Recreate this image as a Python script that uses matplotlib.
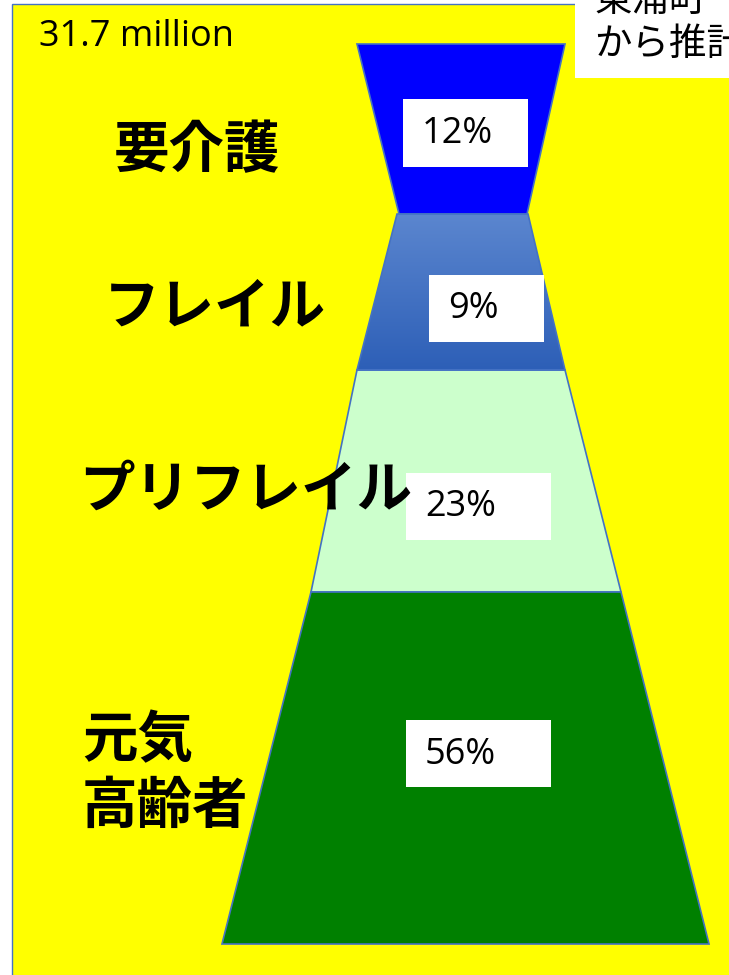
import matplotlib
matplotlib.use("Agg")
import matplotlib.pyplot as plt
import numpy as np
from matplotlib.patches import Polygon, Rectangle
from matplotlib.colors import LinearSegmentedColormap

plt.rcParams['font.family'] = ['Noto Sans CJK JP', 'DejaVu Sans']

# Pyramid layers, top to bottom
layers = ["要介護", "フレイル", "プリフレイル", "元気\n高齢者"]
shares = [12, 9, 23, 56]
total_label = "31.7 million"
source_lines = ["東浦町", "から推計"]

W, H = 729, 975
fig = plt.figure(figsize=(W / 100, H / 100), dpi=100)
ax = fig.add_axes([0, 0, 1, 1])
ax.set_xlim(0, W)
ax.set_ylim(H, 0)
ax.axis("off")

edge = "#4472C4"
latin = ["Open Sans", "DejaVu Sans"]

# Yellow panel
ax.add_patch(Rectangle((12, 4), W, H, facecolor="#FFFF00", edgecolor=edge, lw=1))

# Layer geometry: (y_top, y_bottom, left_top, right_top, left_bottom, right_bottom)
geom = [
    (44, 214, 357, 565, 399, 527),
    (214, 370, 397, 528, 357, 565),
    (370, 592, 357, 565, 311, 621),
    (592, 944, 311, 621, 222, 709),
]
fills = ["#0000FF", None, "#CCFFCC", "#008000"]

for (yt, yb, lt, rt, lb, rb), fc in zip(geom, fills):
    pts = [(lt, yt), (rt, yt), (rb, yb), (lb, yb)]
    if fc is None:
        poly = Polygon(pts, closed=True, facecolor="none", edgecolor=edge, lw=1.2, zorder=3)
        ax.add_patch(poly)
        cmap = LinearSegmentedColormap.from_list("frail", ["#5B86CF", "#2D5FB7"])
        grad = np.linspace(0, 1, 256).reshape(-1, 1)
        im = ax.imshow(grad, cmap=cmap, extent=(lb, rb, yb, yt), aspect="auto", zorder=2)
        im.set_clip_path(poly)
    else:
        ax.add_patch(Polygon(pts, closed=True, facecolor=fc, edgecolor=edge, lw=1.2, zorder=2))

# Percentage boxes
boxes = [(403, 99, 125, 68), (429, 275, 115, 67), (406, 473, 145, 67), (406, 720, 145, 67)]
for (bx, by, bw, bh), s in zip(boxes, shares):
    ax.add_patch(Rectangle((bx, by), bw, bh, facecolor="white", edgecolor="none", zorder=4))
    ax.text(bx + 19, by + bh / 2 + 1, f"{s}%", fontsize=26, family=latin,
            va="center", ha="left", zorder=5)

# Layer names
name_pos = [(114, 151), (104, 307), (79, 491), (82, 774)]
for (nx, ny), name in zip(name_pos, layers):
    ax.text(nx, ny, name, fontsize=40, fontweight="bold", va="center", ha="left",
            linespacing=1.2, zorder=6)

# Total population
ax.text(39, 37, total_label, fontsize=26, family=latin, va="center", ha="left")

# Source note box
ax.add_patch(Rectangle((575, -10), 200, 88, facecolor="white", edgecolor="none", zorder=6))
ax.text(594, 0, source_lines[0], fontsize=27, va="center", ha="left", zorder=7)
ax.text(594, 44, source_lines[1], fontsize=27, va="center", ha="left", zorder=7)

fig.savefig("out.png", dpi=100)
